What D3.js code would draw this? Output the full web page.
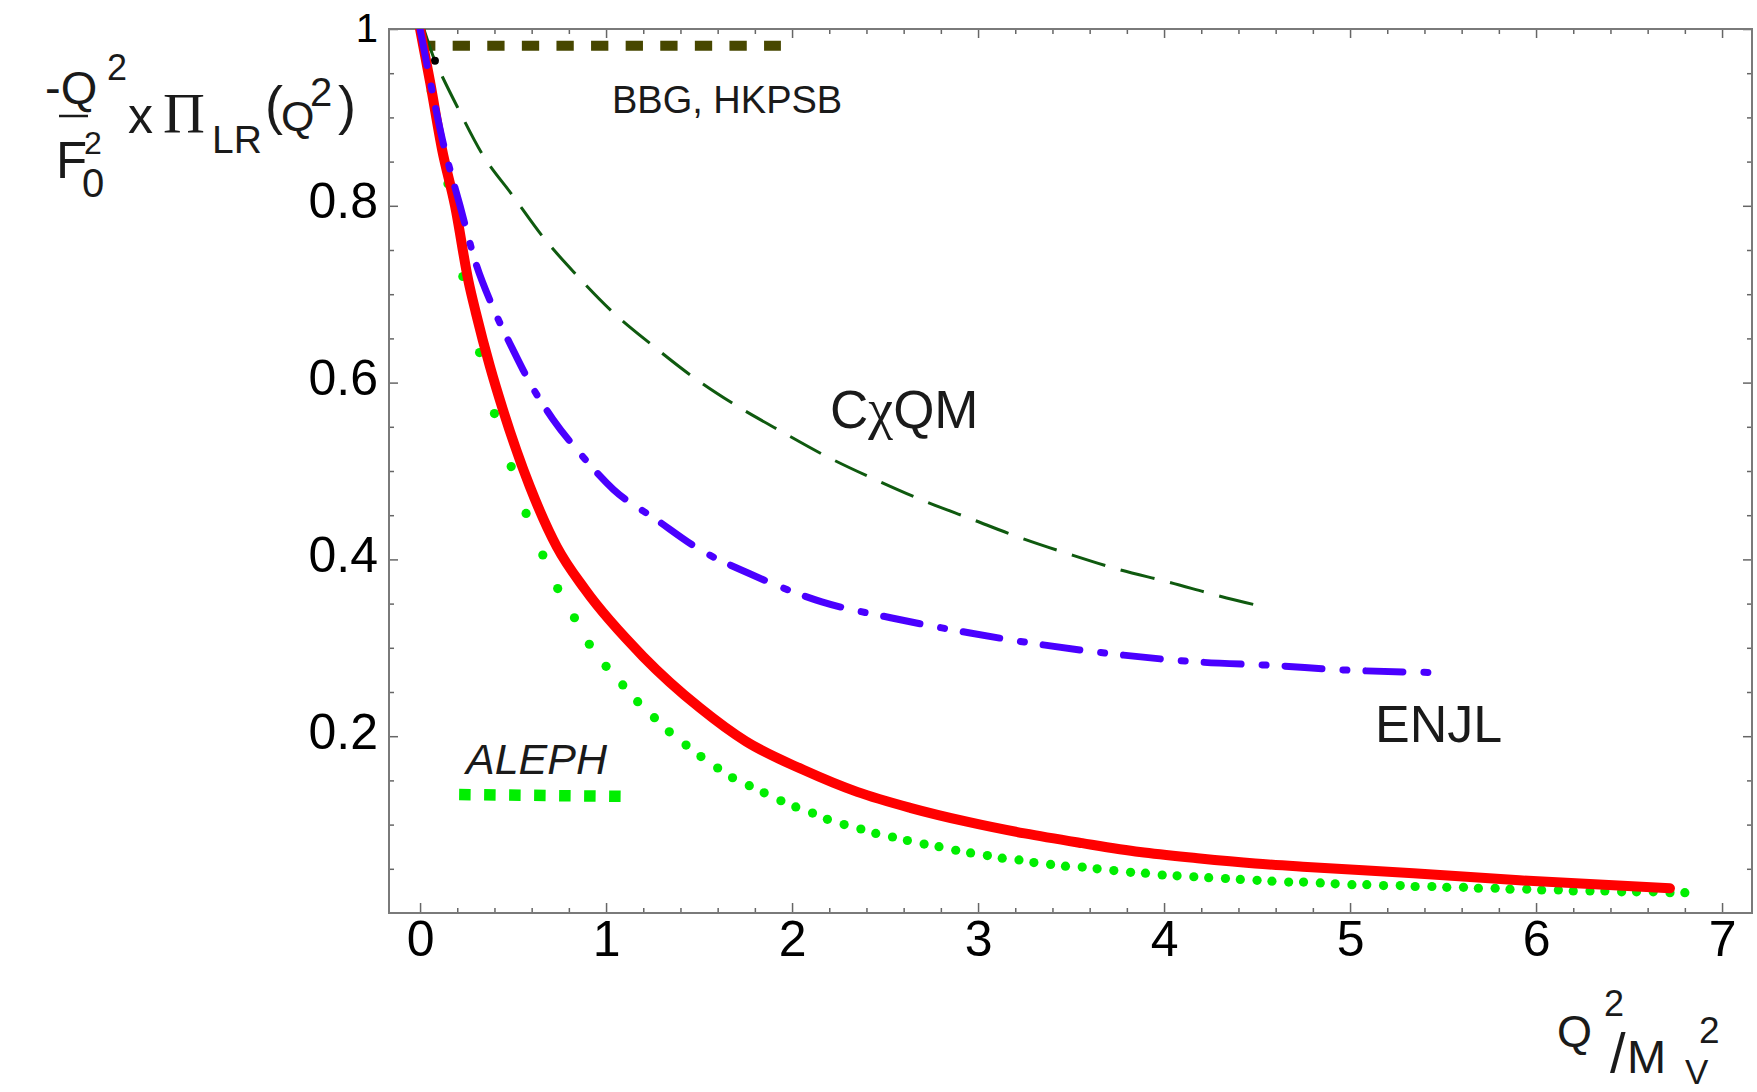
<!DOCTYPE html>
<html>
<head>
<meta charset="utf-8">
<script src="https://cdn.jsdelivr.net/npm/d3@7"></script>
<style>
  body { margin: 0; background: #fff; }
  svg text { font-family: "Liberation Sans", Arial, Helvetica, sans-serif; }
</style>
</head>
<body>
<svg id="chart" width="1757" height="1092"></svg>
<script>
// values (x = Q^2/M_V^2, y = -Q^2/F0^2 x Pi_LR)
var redX = [0, 0.054, 0.118, 0.188, 0.26, 0.30, 0.376, 0.446, 0.591, 0.736, 0.887, 1.2, 1.505, 1.753, 2.06, 2.35, 2.635, 2.946, 3.25, 3.56, 3.87, 4.18, 4.49, 4.77, 5.34, 5.91, 6.72];
var redY = [1.0, 0.94, 0.864, 0.80, 0.715, 0.679, 0.618, 0.569, 0.482, 0.414, 0.366, 0.29, 0.232, 0.194, 0.162, 0.137, 0.119, 0.103, 0.090, 0.079, 0.069, 0.062, 0.056, 0.052, 0.045, 0.037, 0.028];

// ENJL
var enjlX = [0, 0.06, 0.12, 0.215, 0.30, 0.39, 0.50, 0.59, 0.716, 0.86, 1.04, 1.27, 1.505, 1.77, 2.16, 2.53, 2.95, 3.36, 3.77, 4.18, 4.59, 4.96, 5.47];
var enjlY = [1.0, 0.935, 0.875, 0.80, 0.735, 0.686, 0.637, 0.60, 0.558, 0.52, 0.479, 0.445, 0.411, 0.384, 0.352, 0.334, 0.317, 0.303, 0.292, 0.284, 0.28, 0.275, 0.272];

// CxQM
var cqmX = [0.02, 0.08, 0.12, 0.2, 0.33, 0.5, 0.66, 0.84, 1.04, 1.25, 1.47, 1.70, 1.94, 2.19, 2.45, 2.70, 2.96, 3.22, 3.49, 3.75, 4.03, 4.29, 4.56];
var cqmY = [1.0, 0.964, 0.946, 0.912, 0.860, 0.811, 0.765, 0.722, 0.679, 0.642, 0.606, 0.574, 0.545, 0.516, 0.490, 0.467, 0.446, 0.425, 0.406, 0.389, 0.374, 0.359, 0.345];

// ALEPH points (green dots)
var alephX = [0.06, 0.15, 0.23, 0.32, 0.40, 0.49, 0.57, 0.66, 0.74, 0.83,
              0.91, 1.00, 1.09, 1.17, 1.26, 1.34, 1.43, 1.51, 1.60, 1.68,
              1.77, 1.85, 1.94, 2.02, 2.11, 2.19, 2.28, 2.37, 2.45, 2.54,
              2.62, 2.71, 2.79, 2.88, 2.96, 3.05, 3.13, 3.22, 3.30, 3.39,
              3.47, 3.56, 3.64, 3.73, 3.82, 3.90, 3.99, 4.07, 4.16, 4.24,
              4.33, 4.41, 4.50, 4.58, 4.67, 4.75, 4.84, 4.92, 5.01, 5.09,
              5.18, 5.27, 5.35, 5.44, 5.52, 5.61, 5.69, 5.78, 5.86, 5.95,
              6.03, 6.12, 6.20, 6.29, 6.37, 6.46, 6.54, 6.63, 6.72, 6.80];
var alephY = [0.93, 0.825, 0.72, 0.634, 0.565, 0.505, 0.452, 0.405, 0.367, 0.334,
              0.304, 0.279, 0.258, 0.239, 0.221, 0.205, 0.190, 0.177, 0.164, 0.153,
              0.144, 0.136, 0.127, 0.120, 0.113, 0.106, 0.100, 0.095, 0.090, 0.086,
              0.082, 0.078, 0.075, 0.071, 0.068, 0.065, 0.062, 0.060, 0.057, 0.055,
              0.053, 0.052, 0.050, 0.048, 0.046, 0.045, 0.043, 0.042, 0.041, 0.040,
              0.039, 0.038, 0.037, 0.036, 0.035, 0.035, 0.034, 0.033, 0.032, 0.032,
              0.031, 0.031, 0.030, 0.030, 0.029, 0.029, 0.028, 0.028, 0.027, 0.027,
              0.026, 0.026, 0.025, 0.025, 0.025, 0.024, 0.024, 0.024, 0.023, 0.023];

// short reference segments
var bbgX = [0, 1.94];
var bbgY = [0.981, 0.981];
var alephSegX = [0.21, 1.08];
var alephSegY = [0.134, 0.132];
var blackPt = [0.08, 0.964];

var xMajor = [0, 1, 2, 3, 4, 5, 6, 7];
var yMajor = [0.2, 0.4, 0.6, 0.8, 1];

var svg = d3.select("#chart");
var x = d3.scaleLinear().domain([-0.167, 7.161]).range([389, 1752]);
var y = d3.scaleLinear().domain([0, 1]).range([913, 29]);

function pts(xs, ys) { return xs.map(function (d, i) { return [d, ys[i]]; }); }

svg.append("clipPath").attr("id", "clip")
  .append("rect").attr("x", 389).attr("y", 29).attr("width", 1363).attr("height", 884);

//Axes (ticks inside, Mathematica frame style)
var xMinor = d3.range(0, 7.01, 0.2).filter(function (d) { return Math.abs(d - Math.round(d)) > 0.01; });
var yMinor = d3.range(0.05, 1.0, 0.05).filter(function (d) { return Math.abs(d * 5 - Math.round(d * 5)) > 0.01; });

var gb = svg.append("g").attr("transform", "translate(0,913)");
gb.call(d3.axisBottom(x).tickValues(xMajor).tickSize(-10).tickPadding(7).tickFormat(d3.format("d")));
gb.append("g").call(d3.axisBottom(x).tickValues(xMinor).tickSize(-5).tickFormat(""));

var gt = svg.append("g").attr("transform", "translate(0,29)");
gt.call(d3.axisTop(x).tickValues(xMajor).tickSize(-9).tickFormat(""));
gt.append("g").call(d3.axisTop(x).tickValues(xMinor).tickSize(-5).tickFormat(""));

var gl = svg.append("g").attr("transform", "translate(389,0)");
gl.call(d3.axisLeft(y).tickValues(yMajor).tickSize(-9).tickPadding(11)
  .tickFormat(function (d) { return d === 1 ? "1" : d3.format(".1f")(d); }));
gl.append("g").call(d3.axisLeft(y).tickValues(yMinor).tickSize(-5).tickFormat(""));

var gr = svg.append("g").attr("transform", "translate(1752,0)");
gr.call(d3.axisRight(y).tickValues(yMajor).tickSize(-9).tickFormat(""));
gr.append("g").call(d3.axisRight(y).tickValues(yMinor).tickSize(-5).tickFormat(""));

svg.selectAll(".domain").remove();
svg.selectAll(".tick line").attr("stroke", "#666").attr("stroke-width", 1.5);
gb.selectAll(".tick text").attr("font-size", 50).attr("fill", "#000").attr("dy", "0.71em");
gl.selectAll(".tick text").attr("font-size", function (d) { return d === 1 ? 40 : 50; })
  .attr("fill", "#000").attr("dy", function (d) { return d === 1 ? "0.3em" : "0.24em"; });

svg.append("rect")
  .attr("x", 389).attr("y", 29).attr("width", 1363).attr("height", 884)
  .attr("fill", "none").attr("stroke", "#7a7a7a").attr("stroke-width", 2);

var plot = svg.append("g").attr("clip-path", "url(#clip)");
var line = d3.line().x(function (d) { return x(d[0]); }).y(function (d) { return y(d[1]); });
var smooth = d3.line().curve(d3.curveMonotoneX).x(function (d) { return x(d[0]); }).y(function (d) { return y(d[1]); });

// BBG, HKPSB
plot.append("path").attr("d", line(pts(bbgX, bbgY)))
  .attr("fill", "none").attr("stroke", "#474700").attr("stroke-width", 10)
  .attr("stroke-dasharray", "17.3 17.3").attr("stroke-dashoffset", 2);

// CxQM
plot.append("path").attr("d", smooth(pts(cqmX, cqmY)))
  .attr("fill", "none").attr("stroke", "#0f5a0f").attr("stroke-width", 3)
  .attr("stroke-dasharray", "35 16");

plot.append("circle").attr("cx", x(blackPt[0])).attr("cy", y(blackPt[1])).attr("r", 4).attr("fill", "#000");

// ALEPH dots
plot.selectAll("circle.aleph")
  .data(pts(alephX, alephY))
  .enter()
  .append("circle")
  .attr("class", "aleph")
  .attr("cx", function (d) { return x(d[0]); })
  .attr("cy", function (d) { return y(d[1]); })
  .attr("r", 4.6)
  .attr("fill", "#00ee00");

plot.append("path").attr("d", line(pts(alephSegX, alephSegY)))
  .attr("fill", "none").attr("stroke", "#00ee00").attr("stroke-width", 11.5)
  .attr("stroke-dasharray", "11.5 13.5");

// red
plot.append("path").attr("d", smooth(pts(redX, redY)))
  .attr("fill", "none").attr("stroke", "#ff0000").attr("stroke-width", 10)
  .attr("stroke-linecap", "round").attr("stroke-linejoin", "round");

// ENJL
plot.append("path").attr("d", smooth(pts(enjlX, enjlY)))
  .attr("fill", "none").attr("stroke", "#4a00ff").attr("stroke-width", 7)
  .attr("stroke-linecap", "round").attr("stroke-dasharray", "37 21 4 19");

// labels
function txt(s, px, py, size, opts) {
  var t = svg.append("text").attr("x", px).attr("y", py).attr("font-size", size)
    .attr("fill", "#1a1a1a").text(s);
  if (opts && opts.italic) t.attr("font-style", "italic");
  if (opts && opts.serif) t.style("font-family", "'Liberation Serif', 'Times New Roman', serif");
  return t;
}

txt("BBG, HKPSB", 612, 113, 38);
var cq = svg.append("text").attr("x", 830).attr("y", 428).attr("font-size", 53).attr("fill", "#1a1a1a");
cq.append("tspan").text("C");
cq.append("tspan").style("font-family", "'Liberation Serif', 'Times New Roman', serif").attr("font-size", 56).text("\u03C7");
cq.append("tspan").text("QM");
txt("ENJL", 1375, 742, 52);
txt("ALEPH", 466, 774, 43, { italic: true });

// y axis label
txt("-Q", 45, 104, 47);
txt("2", 107, 80, 36);
svg.append("line").attr("x1", 59).attr("x2", 88).attr("y1", 116).attr("y2", 116)
  .attr("stroke", "#1a1a1a").attr("stroke-width", 2.5);
txt("F", 56, 178, 51);
txt("2", 84, 154, 32);
txt("0", 82, 197, 40);
txt("x", 128, 133, 50);
txt("\u03A0", 163, 133, 58, { serif: true });
txt("LR", 212, 153, 39);
txt("(", 265, 124, 54);
txt("Q", 281, 131, 43);
txt("2", 310, 106, 40);
txt(")", 338, 124, 54);

// x axis label
txt("Q", 1557, 1047, 45);
txt("2", 1604, 1016, 36);
txt("/", 1610, 1072, 56);
txt("M", 1627, 1073, 47);
txt("V", 1685, 1084, 35);
txt("2", 1699, 1043, 37);
</script>
</body>
</html>
